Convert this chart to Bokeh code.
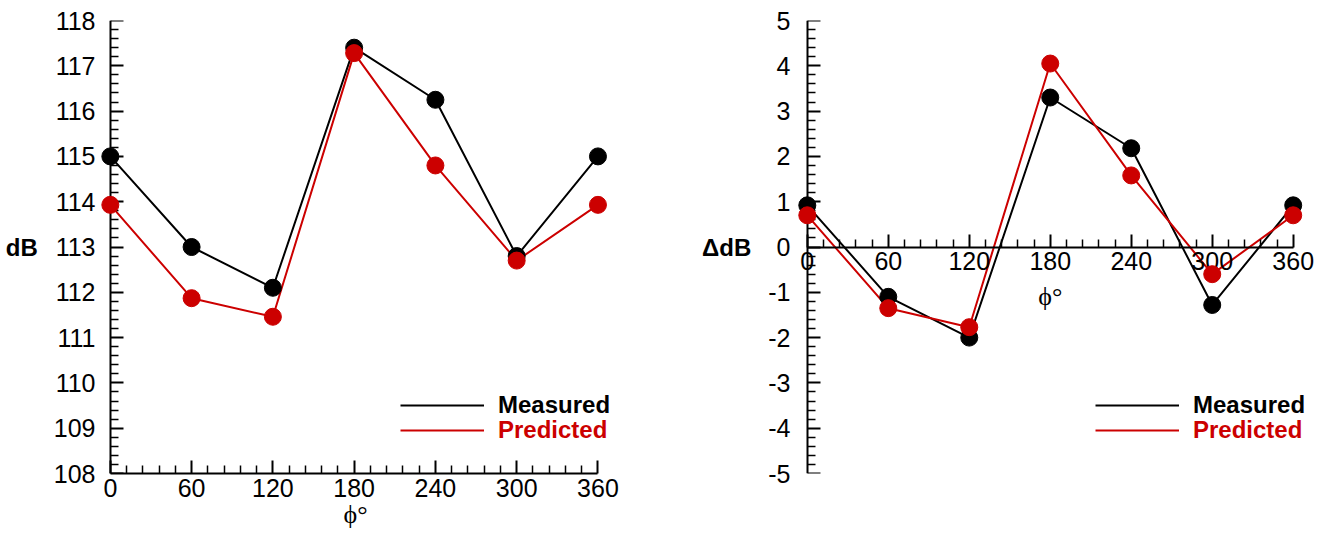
from bokeh.plotting import figure
from bokeh.models import Range1d, FixedTicker, Label, Legend, LegendItem, LinearAxis
from bokeh.layouts import row
from bokeh.embed import file_html
from bokeh.resources import INLINE

# ---------------- data ----------------
angles = [0, 60, 120, 180, 240, 300, 360]
db_measured = [115.0, 113.0, 112.1, 117.4, 116.25, 112.8, 115.0]
db_predicted = [113.93, 111.87, 111.46, 117.28, 114.8, 112.7, 113.93]
ddb_measured = [0.92, -1.1, -2.0, 3.3, 2.18, -1.28, 0.92]
ddb_predicted = [0.7, -1.35, -1.77, 4.05, 1.58, -0.6, 0.7]

x_major = [0, 60, 120, 180, 240, 300, 360]
db_major = [108, 109, 110, 111, 112, 113, 114, 115, 116, 117, 118]
ddb_major = [-5, -4, -3, -2, -1, 0, 1, 2, 3, 4, 5]
series_names = ["Measured", "Predicted"]
x_title = "\u03d5\u00b0"

BLACK = "#000000"
RED = "#cc0000"
FONT = "Liberation Sans"
SERIF = "Liberation Serif"
TICK_FS = "25px"

x_minor = [m for m in range(0, 361, 12) if m % 60 != 0]


def minor_of(major):
    out = []
    for a, b in zip(major[:-1], major[1:]):
        step = (b - a) / 5.0
        out += [round(a + k * step, 3) for k in range(1, 5)]
    return out


def line_axis(ax, major, minor, bounds, tin, tout, mtin, mtout):
    """axis that draws its line and ticks"""
    ax.ticker = FixedTicker(ticks=major, minor_ticks=minor)
    ax.bounds = bounds
    ax.axis_line_width = 2
    ax.axis_line_color = BLACK
    ax.major_tick_in = tin
    ax.major_tick_out = tout
    ax.major_tick_line_width = 2
    ax.major_tick_line_color = BLACK
    ax.minor_tick_in = mtin
    ax.minor_tick_out = mtout
    ax.minor_tick_line_width = 1.5
    ax.minor_tick_line_color = BLACK


def label_style(ax, standoff, major):
    ax.major_label_text_font = FONT
    ax.major_label_text_font_size = TICK_FS
    ax.major_label_text_color = BLACK
    ax.major_label_standoff = standoff
    ax.major_label_overrides = {v: str(v) for v in major}


def text_axis(ax, major, standoff, title, title_standoff):
    """axis that draws only tick labels and a horizontal title"""
    ax.ticker = FixedTicker(ticks=major, minor_ticks=[])
    ax.axis_line_color = None
    ax.major_tick_line_color = None
    ax.minor_tick_line_color = None
    ax.major_tick_in = 0
    ax.major_tick_out = 0
    ax.minor_tick_in = 0
    ax.minor_tick_out = 0
    label_style(ax, standoff, major)
    ax.axis_label = title
    ax.axis_label_text_font = FONT
    ax.axis_label_text_font_size = "24px"
    ax.axis_label_text_font_style = "bold"
    ax.axis_label_text_color = BLACK
    ax.axis_label_standoff = title_standoff
    try:
        ax.axis_label_orientation = "horizontal"
    except Exception:
        pass


def make_fig(xhi, ylo, yhi, fw, left, right):
    p = figure(x_range=Range1d(-8, xhi), y_range=Range1d(ylo, yhi),
               frame_width=fw, frame_height=453,
               min_border_left=left, min_border_right=right,
               min_border_top=20, min_border_bottom=66,
               output_backend="svg", toolbar_location=None)
    p.xgrid.visible = False
    p.ygrid.visible = False
    p.outline_line_color = None
    p.background_fill_color = "white"
    p.border_fill_color = "white"
    return p


def add_series(p, ym, yp):
    lm = p.line(angles, ym, line_width=2, color=BLACK)
    p.scatter(angles, ym, size=17, color=BLACK, level="overlay")
    lp = p.line(angles, yp, line_width=2, color=RED)
    p.scatter(angles, yp, size=17, color=RED, level="overlay")
    return lm, lp


def add_legend(p, renderer, label, color, x, y):
    lg = Legend(items=[LegendItem(label=label, renderers=[renderer])],
                location=(x, y), orientation="vertical",
                padding=0, margin=0, spacing=0,
                glyph_width=84, glyph_height=24, label_height=24,
                label_standoff=14,
                label_text_font=FONT, label_text_font_size="24px",
                label_text_font_style="bold", label_text_color=color,
                border_line_color=None, background_fill_alpha=0)
    p.add_layout(lg)


def add_fixed_yaxis(p, major, bounds, side):
    """y axis line + ticks drawn at x = 0 (labels come from the outer axis)"""
    ax = LinearAxis(fixed_location=0)
    if side == "right":
        line_axis(ax, major, minor_of(major), bounds, 0, 13, 0, 8)
    else:
        line_axis(ax, major, minor_of(major), bounds, 13, 0, 8, 0)
    ax.major_label_text_font_size = "1px"
    ax.major_label_text_color = None
    ax.major_label_standoff = 0
    p.add_layout(ax, side)


# ---------------- left: dB ----------------
p1 = make_fig(370, 108, 118, 512, 99, 20)
xa1 = p1.xaxis[0]
line_axis(xa1, x_major, x_minor, (0, 360), 13, 0, 8, 0)
label_style(xa1, 5, x_major)
xa1.axis_label = x_title
xa1.axis_label_text_font = SERIF
xa1.axis_label_text_font_size = "26px"
xa1.axis_label_text_font_style = "normal"
xa1.axis_label_text_color = BLACK
xa1.axis_label_standoff = 0
text_axis(p1.yaxis[0], db_major, 4, "dB", 13)
add_fixed_yaxis(p1, db_major, (108, 118), "right")
lm1, lp1 = add_series(p1, db_measured, db_predicted)
add_legend(p1, lm1, series_names[0], BLACK, 301, 54)
add_legend(p1, lp1, series_names[1], RED, 301, 29)

# ---------------- right: delta dB ----------------
p2 = make_fig(378, -5, 5, 521, 165, 6)
xa2 = p2.xaxis[0]
line_axis(xa2, x_major, x_minor, (0, 360), 13, 0, 8, 0)
label_style(xa2, 5, x_major)
xa2.fixed_location = 0
text_axis(p2.yaxis[0], ddb_major, 6, "\u0394dB", 14)
add_fixed_yaxis(p2, ddb_major, (-5, 5), "left")
lm2, lp2 = add_series(p2, ddb_measured, ddb_predicted)
add_legend(p2, lm2, series_names[0], BLACK, 299, 54)
add_legend(p2, lp2, series_names[1], RED, 299, 29)
p2.add_layout(Label(x=180, y=-1.09, text=x_title, text_font=SERIF, text_font_size="26px",
                    text_align="center", text_baseline="middle", text_color=BLACK))

layout = row(p1, p2)
open("out.html", "w").write(file_html(layout, INLINE))
